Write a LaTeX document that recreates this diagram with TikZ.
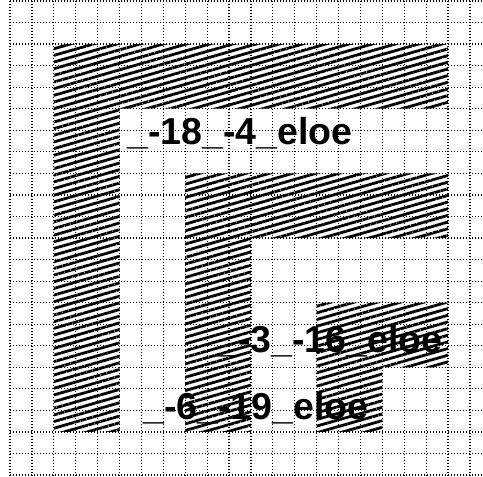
\documentclass[tikz,border=0pt]{standalone}
\usepackage{fontspec}
\setmainfont{Liberation Sans}
\usetikzlibrary{patterns.meta}

\tikzset{
  gridline/.style={line width=0.6pt, dash pattern=on 0.6pt off 0.9pt},
  hatched/.style={pattern={Lines[angle=16, distance=3.2pt, line width=1.4pt]}},
  tag/.style={font=\fontsize{18.75}{20}\selectfont\bfseries, inner sep=0pt, anchor=base west},
}

\begin{document}
\begin{tikzpicture}[x=10.95pt, y=-10.775pt]

  % ---- canvas: grid column 0 at pixel 10, grid row 0 at pixel 1 ----
  \fill[white] (-0.457,-0.046) rectangle (21.598,22.088);
  \useasboundingbox (-0.457,-0.046) rectangle (21.598,22.088);
  \clip (-0.457,-0.046) rectangle (21.598,22.088);

  % ---- dotted grid ----
  \foreach \i in {0,...,21}
    \draw[gridline] (\i,0) -- (\i,22.1);
  \foreach \j in {0,...,22}
    \draw[gridline] (0,\j) -- (21.6,\j);

  % ---- nested L bands, three cells wide, all ending at column/row 20 ----
  \foreach \c in {2,8,14} {
    \pgfmathsetmacro\cc{\c+3}
    \fill[hatched] (\c,\c) -- (20,\c) -- (20,\cc) -- (\cc,\cc) -- (\cc,20) -- (\c,20) -- cycle;
  }

  % ---- labels ----
  \node[tag] (eloeA) at (5.34,6.68) {\_-18\_-4\_eloe};
  \node[tag] (eloeB) at (9.45,16.33) {\_-3\_-16\_eloe};
  \node[tag] (eloeC) at (6.07,19.44) {\_-6\_-19\_eloe};

\end{tikzpicture}
\end{document}
